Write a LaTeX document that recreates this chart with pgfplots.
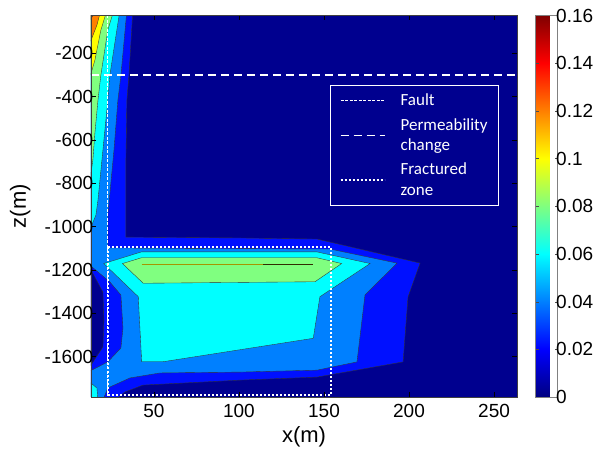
\documentclass[border=0pt]{standalone}
\usepackage{fontspec}
\setmainfont{Liberation Sans}
\newfontfamily\legfont{Carlito}
\usepackage{pgfplots}
\pgfplotsset{compat=1.18}
\definecolor{jnavy}{RGB}{0,0,143}
\definecolor{jblue}{RGB}{0,16,255}
\definecolor{jlblue}{RGB}{0,128,255}
\definecolor{jcyan}{RGB}{0,255,255}
\definecolor{jgreen}{RGB}{128,255,128}
\definecolor{jyellow}{RGB}{255,255,0}
\definecolor{jorange}{RGB}{255,128,0}
\definecolor{jred}{RGB}{225,0,0}
\definecolor{olivec}{RGB}{165,150,0}

\begin{document}
\begin{tikzpicture}
\useasboundingbox (-91pt,-55pt) rectangle (507pt,397pt);
\begin{axis}[
  at={(0,0)}, anchor=south west,
  scale only axis,
  width=426pt, height=381.5pt,
  xmin=13, xmax=263.5,
  ymin=-1786, ymax=-25,
  axis background/.style={fill=jnavy},
  axis on top,
  axis line style={black!75},
  tick style={black, line width=0.5pt},
  major tick length=5pt,
  xtick={50,100,150,200,250},
  xticklabels={50,100,150,200,250},
  ytick={-1600,-1400,-1200,-1000,-800,-600,-400,-200},
  yticklabels={-1600,-1400,-1200,-1000,-800,-600,-400,-200},
  tick label style={font=\fontsize{19}{22}\selectfont},
  y tick label style={inner xsep=1.5pt, xshift=4pt},
  x tick label style={yshift=-4pt},
  xlabel={x(m)}, ylabel={z(m)},
  label style={font=\fontsize{22}{26}\selectfont},
  xlabel style={at={(axis description cs:0.5,-0.105)}, anchor=center},
  ylabel style={at={(axis description cs:-0.166,0.5)}, anchor=center},
  colorbar,
  colormap/jet,
  point meta min=0, point meta max=0.16,
  colorbar style={
    at={(parent axis.north east)}, anchor=north west, xshift=10pt,
    scale only axis, width=22pt, height=381.5pt,
    ytick={0,0.02,0.04,0.06,0.08,0.1,0.12,0.14,0.16},
    yticklabels={0,0.02,0.04,0.06,0.08,0.1,0.12,0.14,0.16},
    yticklabel style={font=\fontsize{19}{22}\selectfont, inner xsep=0.5pt, xshift=-2pt},
    axis line style={black!50},
    tick style={black!70},
    major tick length=3pt,
  },
  legend cell align=left,
  legend image code/.code={\draw[#1] (0pt,0pt) -- (44pt,0pt);},
  legend style={at={(0.561,0.818)}, anchor=north west,
    draw=white, line width=1.2pt, fill=jnavy, text=white,
    font=\legfont\fontsize{17}{20.5}\selectfont,
    cells={align=left}, inner xsep=9pt, inner ysep=6.5pt, row sep=7pt,
    /tikz/every odd column/.append style={column sep=13pt}},
]
% contour bands, lowest level first
\addplot[forget plot, fill=jblue, draw=black!80, line width=0.35pt] coordinates {
 (12,0) (37.6,0) (35.3,-300) (34.1,-416) (33.5,-700) (33.5,-1048)
 (100.6,-1052) (145.9,-1057) (206.5,-1168) (199.4,-1324) (196.5,-1624)
 (145.9,-1694) (100.6,-1708) (43.5,-1731) (32.9,-1763) (27.1,-1800) (12,-1800)} -- cycle;
\addplot[forget plot, fill=jnavy, draw=black!80, line width=0.35pt] coordinates {
 (12,-1185) (20,-1302) (20.6,-1431) (20,-1555) (12,-1650)} -- cycle;
\addplot[forget plot, fill=jlblue, draw=black!80, line width=0.35pt] coordinates {
 (12,0) (34.1,0) (30.6,-300) (28.8,-416) (26.5,-646) (22.9,-946) (22.9,-1098)
 (153.5,-1103) (192.9,-1168) (174.1,-1315) (169.4,-1624) (145.9,-1662)
 (100.6,-1671) (53.5,-1675) (35.9,-1698) (22.9,-1744) (20,-1800) (12,-1800)
 (12,-1668) (22.9,-1624) (30.6,-1560) (31.8,-1468) (30.6,-1315) (24.1,-1255) (12,-1175)} -- cycle;
\addplot[forget plot, fill=jcyan, draw=black!80, line width=0.35pt] coordinates {
 (12,0) (30,0) (24.1,-300) (22.9,-416) (20,-646) (17.1,-877) (15.9,-946) (12,-1020)} -- cycle;
\addplot[forget plot, fill=jcyan, draw=black!80, line width=0.35pt] coordinates {
 (20.5,-1170) (42.8,-1116) (145.7,-1116) (177.1,-1170) (147.6,-1323)
 (143.7,-1515) (55.5,-1623) (42.8,-1623) (40.8,-1323)} -- cycle;
\addplot[forget plot, fill=jcyan, draw=black!80, line width=0.35pt] coordinates {
 (12,-1715) (16.5,-1745) (17.1,-1800) (12,-1800)} -- cycle;
\addplot[forget plot, fill=jgreen, draw=black!80, line width=0.35pt] coordinates {
 (12,0) (26.5,0) (22.9,-92) (18.8,-300) (17.1,-416) (15.3,-568) (14.1,-692) (12,-810)} -- cycle;
\addplot[forget plot, fill=jgreen, draw=black!80, line width=0.35pt] coordinates {
 (31.5,-1170) (42.8,-1143) (145.7,-1143) (160.4,-1170) (144.7,-1254) (43.7,-1261)} -- cycle;
\addplot[forget plot, fill=jyellow, draw=black!80, line width=0.35pt] coordinates {
 (12,0) (22.4,0) (18.8,-92) (15.3,-231) (12,-320)} -- cycle;
\addplot[forget plot, fill=jorange, draw=black!80, line width=0.35pt] coordinates {
 (12,0) (18.8,0) (16.5,-69) (12,-160)} -- cycle;
\addplot[forget plot, fill=jred, draw=black!80, line width=0.35pt] coordinates {
 (12,0) (15.9,0) (12,-55)} -- cycle;
\addplot[forget plot, olivec, line width=1.8pt] coordinates {(42.8,-1174) (114.3,-1174)};
\addplot[forget plot, black!70!olivec, line width=1.2pt] coordinates {(114.3,-1174) (143.7,-1174)};
% fault, permeability change, fractured zone
\addplot[white, line width=1.2pt, dash pattern=on 3pt off 1.5pt] coordinates {(22.6,-25) (22.6,-1786)};
\addlegendentry{Fault}
\addplot[white, line width=1.4pt, dash pattern=on 8pt off 5pt] coordinates {(13,-300) (263.5,-300)};
\addlegendentry{Permeability\\change}
\addplot[white, line width=2pt, dash pattern=on 2pt off 2pt] coordinates {
 (22.9,-1094) (154.1,-1094) (154.1,-1776) (22.9,-1776) (22.9,-1094)};
\addlegendentry{Fractured\\zone}
\end{axis}
\end{tikzpicture}
\end{document}
